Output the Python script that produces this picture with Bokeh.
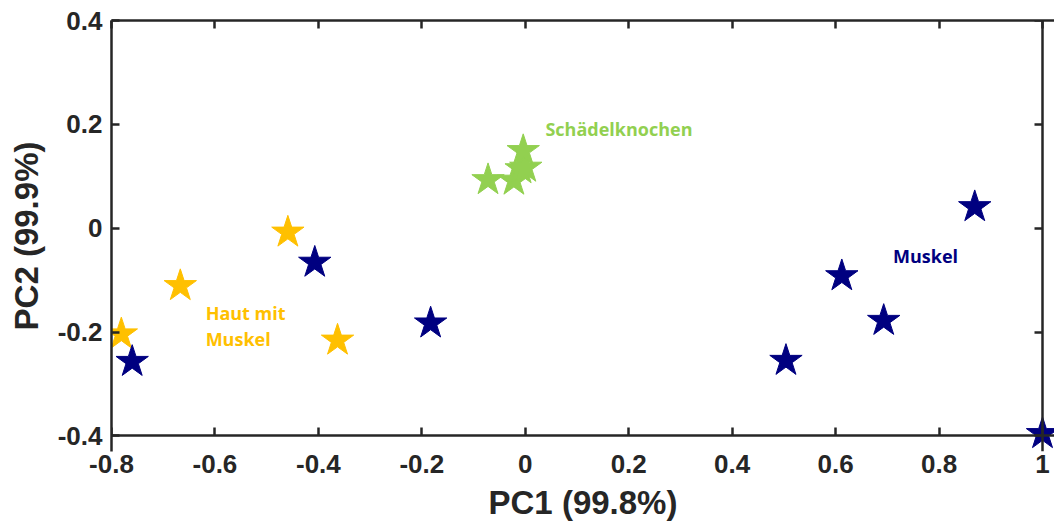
from bokeh.plotting import figure
from bokeh.models import ColumnDataSource, LinearAxis, FixedTicker, Range1d
from bokeh.core.properties import value
from bokeh.embed import file_html
from bokeh.resources import INLINE

# Data
muskel_pc1 = [-0.760, -0.407, -0.183, 0.504, 0.612, 0.693, 0.869, 1.0]
muskel_pc2 = [-0.257, -0.066, -0.183, -0.255, -0.092, -0.178, 0.041, -0.396]

haut_pc1 = [-0.781, -0.667, -0.459, -0.363]
haut_pc2 = [-0.204, -0.111, -0.008, -0.216]

knochen_pc1 = [-0.072, -0.022, -0.008, 0.001, -0.004]
knochen_pc2 = [0.093, 0.092, 0.114, 0.117, 0.149]

x_ticks = [-0.8, -0.6, -0.4, -0.2, 0, 0.2, 0.4, 0.6, 0.8, 1.0]
y_ticks = [-0.4, -0.2, 0, 0.2, 0.4]
x_lim = [-0.8, 1.0]
y_lim = [-0.4, 0.4]

labels_text = ["Schädelknochen", "Muskel", "Haut mit", "Muskel"]
labels_x = [0.039, 0.711, -0.618, -0.618]
labels_y = [0.192, -0.053, -0.163, -0.213]
labels_color = ["#92D050", "#000080", "#FFC000", "#FFC000"]

AX = "#262626"
FONT = "Liberation Sans"

# frame extends a little beyond the axis box so corner markers are not clipped
x_pad = 0.0232
y_pad = 0.03
p = figure(frame_width=943, frame_height=431, output_backend="svg", toolbar_location=None,
           x_range=Range1d(x_lim[0], x_lim[1] + x_pad), y_range=Range1d(y_lim[0] - y_pad, y_lim[1]),
           min_border_left=111, min_border_right=0, min_border_top=20, min_border_bottom=0,
           background_fill_color="white", border_fill_color="white")
p.outline_line_color = None
p.xgrid.visible = False
p.ygrid.visible = False

def fmt(v):
    s = ("%.1f" % v).rstrip("0").rstrip(".")
    return "0" if s in ("-0", "0") else s

def style(ax, ticks, show_labels):
    ax.ticker = FixedTicker(ticks=ticks)
    ax.minor_tick_line_color = None
    ax.major_tick_in = 8
    ax.major_tick_out = 0
    ax.major_tick_line_width = 2.5
    ax.major_tick_line_color = AX
    ax.axis_line_width = 2.5
    ax.axis_line_color = AX
    ax.major_label_overrides = {t: fmt(t) for t in ticks}
    if show_labels:
        ax.major_label_text_font = FONT
        ax.major_label_text_font_style = "bold"
        ax.major_label_text_font_size = "26px"
        ax.major_label_text_color = AX
        ax.axis_label_text_font = FONT
        ax.axis_label_text_font_style = "bold"
        ax.axis_label_text_font_size = "33px"
        ax.axis_label_text_color = AX
    else:
        ax.major_label_text_color = None
        ax.major_label_text_font_size = "0px"
        ax.major_label_standoff = 0

# bottom box line with ticks, drawn at y = -0.4
style(p.xaxis[0], x_ticks, False)
p.xaxis[0].fixed_location = y_lim[0]

# bottom tick labels and title (no line)
xlab = LinearAxis()
style(xlab, x_ticks, True)
xlab.axis_line_color = None
xlab.major_tick_line_color = None
xlab.major_tick_in = 0
xlab.major_label_standoff = 3
xlab.axis_label = "PC1 (99.8%)"
xlab.axis_label_standoff = 8
p.add_layout(xlab, "below")

style(p.yaxis[0], y_ticks, True)
p.yaxis[0].axis_label = "PC2 (99.9%)"
p.yaxis[0].major_label_standoff = 9
p.yaxis[0].axis_label_standoff = 10

top = LinearAxis()
right = LinearAxis(fixed_location=x_lim[1])
style(top, x_ticks, False)
style(right, y_ticks, False)
p.add_layout(top, "above")
p.add_layout(right, "right")

p.scatter(knochen_pc1, knochen_pc2, marker="star", size=34, fill_color="#92D050", line_color="#92D050")
p.scatter(haut_pc1, haut_pc2, marker="star", size=34, fill_color="#FFC000", line_color="#FFC000")
p.scatter(muskel_pc1, muskel_pc2, marker="star", size=34, fill_color="#000080", line_color="#000080")

src = ColumnDataSource(dict(x=labels_x, y=labels_y, t=labels_text, c=labels_color))
p.text(x="x", y="y", text="t", text_color="c", source=src,
       text_font=value("Open Sans"), text_font_style="bold", text_font_size="18px",
       text_align="left", text_baseline="middle")

open("out.html", "w").write(file_html(p, INLINE))
